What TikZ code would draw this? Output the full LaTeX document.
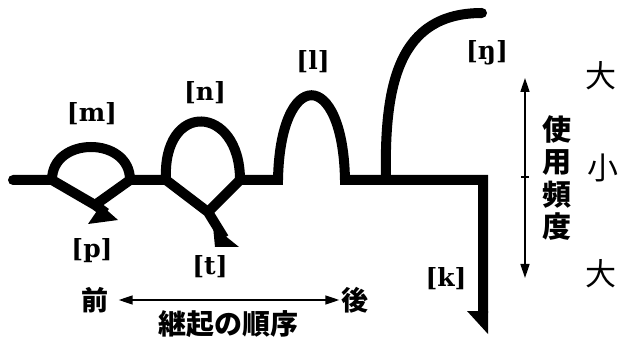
\documentclass[tikz,border=0pt]{standalone}
\usepackage{fontspec}
\newfontfamily\jpfont{Noto Sans CJK JP}
\newfontfamily\ipafont{DejaVu Serif}
\usetikzlibrary{arrows.meta}

\begin{document}
\begin{tikzpicture}[x=1pt, y=-1pt,
  stroke/.style={line width=10pt, line join=miter},
  barb/.style={fill=black},
  ipa/.style={font=\ipafont\bfseries\fontsize{25}{25}\selectfont, inner sep=0pt},
  jp/.style={font=\jpfont\bfseries\fontsize{28}{28}\selectfont, inner sep=0pt},
  jpside/.style={font=\jpfont\bfseries\fontsize{27}{27}\selectfont, inner sep=0pt},
  jpthin/.style={font=\jpfont\fontsize{31}{31}\selectfont, inner sep=0pt},
  axis/.style={line width=1.6pt, {Triangle[length=14pt, width=9pt]}-{Triangle[length=14pt, width=9pt]}}
]
\useasboundingbox (0,0) rectangle (618,347);

% points of the articulation line
\coordinate (start) at (13,180);
\coordinate (mL) at (52,180);
\coordinate (mR) at (130,180);
\coordinate (mV) at (95,205);
\coordinate (mEnd) at (106,213);
\coordinate (nL) at (166,180);
\coordinate (nR) at (240,180);
\coordinate (nX) at (208,212);
\coordinate (nEnd) at (224,238);
\coordinate (lL) at (278,180);
\coordinate (lR) at (345,180);
\coordinate (ngFoot) at (386,180);
\coordinate (ngEnd) at (482,13);
\coordinate (corner) at (483,180);
\coordinate (kEnd) at (483,313);

\draw[stroke, line cap=round] (start) -- (mL)
  .. controls (52,136) and (130,136) .. (mR) -- (nL)
  .. controls (162,100) and (240,104) .. (nR) -- (lL)
  .. controls (280,67) and (343,67) .. (lR) -- (corner) -- (kEnd);
\draw[stroke, line join=round] (mL) -- (mV) -- (mEnd);
\draw[stroke, line join=round] (mR) -- (mV);
\draw[stroke, line join=round] (nL) -- (nX) -- (nEnd);
\draw[stroke, line join=round] (nR) -- (nX);
\draw[stroke, line cap=round] (ngFoot) .. controls (384,85) and (398,13) .. (ngEnd);

% half arrow heads
\fill[barb] (101,205) -- (118,220) -- (88,224) -- cycle;
\fill[barb] (213,226) -- (239,247) -- (215,247) -- cycle;
\fill[barb] (467,311) -- (488,311) -- (488,334) -- cycle;

% sound labels
\node[ipa] (m) at (92,114) {[m]};
\node[ipa] (n) at (205,93) {[n]};
\node[ipa] (l) at (313,62) {[l]};
\node[ipa] (ng) at (487,53) {[ŋ]};
\node[ipa] (p) at (92,251) {[p]};
\node[ipa] (t) at (210,267) {[t]};
\node[ipa] (k) at (446,279) {[k]};

% frequency scale
\node[jpthin] (big1) at (601,76) {大};
\node[jpthin] (small) at (603,168) {小};
\node[jpthin] (big2) at (601,274) {大};
\coordinate (fTop) at (525,78);
\coordinate (fMid) at (525,177);
\coordinate (fBot) at (525,278);
\draw[axis] (fTop) -- (fBot);
\draw[line width=1.2pt] ([xshift=-4pt]fMid) -- ([xshift=4pt]fMid);
\node[jp, align=center, font=\jpfont\bfseries\fontsize{29}{32.5}\selectfont] (freq) at (557,178) {使\\用\\頻\\度};

% order of succession
\node[jpside] (front) at (95,300) {前};
\node[jpside] (back) at (355,300) {後};
\draw[axis, shorten <=10pt, shorten >=2pt] (front) -- (back);
\node[jp] (order) at (228,324) {継起の順序};
\end{tikzpicture}
\end{document}
